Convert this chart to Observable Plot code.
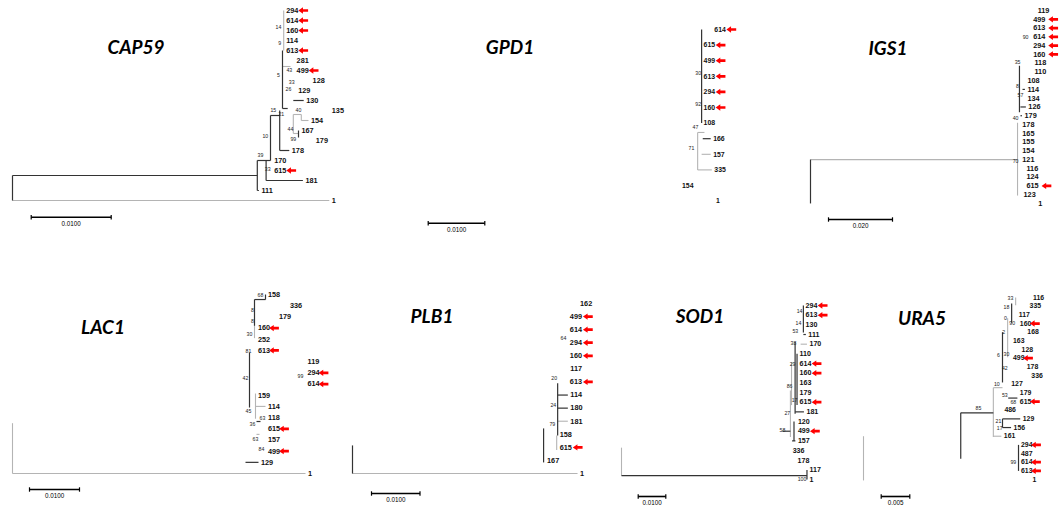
<!DOCTYPE html>
<html><head><meta charset="utf-8">
<script src="https://cdn.jsdelivr.net/npm/d3@7"></script>
<script src="https://cdn.jsdelivr.net/npm/@observablehq/plot@0.6"></script>
<style>
html,body{margin:0;padding:0;background:#fff;}
#chart{position:relative;width:1060px;height:506px;overflow:hidden;background:#fff;}
#chart svg{position:absolute;left:0;top:0;}
.title{position:absolute;transform:translate(-50%,-50%);font-family:"Lato","Liberation Sans",sans-serif;font-weight:bold;font-style:italic;font-size:19px;color:#000;white-space:nowrap;}
</style></head><body><div id="chart"></div>
<script>
// ---- data: x = distance in units of 0.001 subst./site, row = leaf order ----
const capLabels = ["294","614","160","114","613","281","499","128","129","130","135","154","167","179","178","170","615","181","111","1"];
const capTips = [33.9,33.9,33.9,33.9,33.9,35.2,35.2,37.2,35.4,36.4,39.6,37.0,35.8,37.6,34.6,32.4,32.4,36.3,30.8,39.6];
const capMarked = ["294","614","160","613","499","615"];
const capBranches = [[0,16.5,30.6,16.5],[0,16.5,0,19],[30.6,15,30.6,18],[30.6,18,30.8,18],[30.6,15,32.25,15],[32.25,10.5,32.25,15],[31.7,15,31.7,17],[31.7,17,36.3,17],[32.25,10.5,33.4,10.5],[33.4,10,33.4,14],[33.4,14,34.6,14],[33.75,4,33.75,9.8],[33.75,9.8,34.4,9.8],[35.1,9,36.4,9],[35.75,12,35.75,12.7]];
const capFaint = [[33.9,0,33.9,4],[0,19,39.6,19],[35.1,10.4,36.1,10.4],[36.1,10.4,36.1,11],[36.1,11,37.0,11],[35.1,10.4,35.1,12.3],[35.1,12.3,35.75,12.3],[33.75,5.6,34.75,5.6]];
const capBootText = ["14","9","43","5","33","26","40","15","21","44","99","10","39","33"];
const capBootX = [33.25,33.4,34.6,33.25,34.9,34.5,35.75,32.6,33.6,34.75,35.1,31.6,31.0,31.9];
const capBootRow = [1.7,3.3,6,6.5,7.2,7.9,10.0,10,10.4,11.9,12.9,12.6,14.5,15.9];

const gpdLabels = ["614","615","499","613","294","160","108","166","157","335","154","1"];
const gpdTips = [49.7,47.8,47.8,47.8,47.8,47.8,47.8,49.5,49.5,49.7,44.0,50.0];
const gpdMarked = ["614","615","499","613","294","160"];
const gpdBranches = [[47.9,0,47.9,6],[48.1,7,49.5,7]];
const gpdFaint = [[47.9,8,49.5,8],[47.2,9,49.7,9],[47.2,6.6,47.2,9],[47.2,6.6,48.4,6.6]];
const gpdBootText = ["30","92","47","71"];
const gpdBootX = [47.3,47.3,46.8,46.1];
const gpdBootRow = [2.8,4.8,6.3,7.6];

const igsLabels = ["119","499","613","614","294","160","118","110","108","114","134","126","179","178","165","155","154","121","116","124","615","123","1"];
const igsTips = [70.2,68.8,68.8,68.8,68.8,68.8,69.2,69.2,67.0,67.0,67.0,67.3,66.1,65.4,65.4,65.4,65.4,65.4,66.7,66.7,66.7,65.8,70.4];
const igsMarked = ["499","613","614","294","160","615"];
const igsBranches = [[0,17,0,22],[65.3,6.3,65.3,11.6],[66.25,9,67.0,9],[65.6,11,67.3,11],[65.6,12,66.1,12]];
const igsFaint = [[0,17,64.7,17],[64.7,12.8,64.7,21.1]];
const igsBootText = ["90","35","8","57","40","70"];
const igsBootX = [67.2,64.7,64.7,65.6,64.1,64.1];
const igsBootRow = [3.1,5.9,8.6,9.7,12.3,17.2];

const lacLabels = ["158","336","179","160","252","613","119","294","614","159","114","118","615","157","499","129","1"];
const lacTips = [50.6,55.0,52.8,48.6,48.6,48.6,58.5,58.5,58.5,48.6,50.6,50.6,50.6,50.6,50.6,49.2,58.6];
const lacMarked = ["160","613","294","614","615","499"];
const lacBranches = [[48.4,0.45,48.4,2.8],[48.4,0.45,50.6,0.45],[50.6,0,50.6,0.45],[47.4,5.2,47.4,10.1],[48.8,11.35,49.6,11.35],[46.6,15,49.2,15]];
const lacFaint = [[48.4,2.8,48.4,3.9],[48.6,8.85,48.6,11.1],[48.6,10,50.6,10],[48.8,12.5,49.4,12.5],[0,16,58.6,16],[0,11.5,0,16]];
const lacBootText = ["68","8","8","30","81","42","99","45","63","36","63","84"];
const lacBootX = [49.6,48,48,47.4,47.2,46.6,57.6,47.2,50,48,48.6,49.8];
const lacBootRow = [0.1,1.43,2.4,3.6,5.1,7.5,7.3,10.45,11.1,11.6,12.9,13.85];

const plbLabels = ["162","499","614","294","160","117","613","114","180","181","158","615","167","1"];
const plbTips = [46.4,44.3,44.3,44.3,44.3,44.4,44.3,44.4,44.4,44.4,42.2,42.2,39.6,46.4];
const plbMarked = ["499","614","294","160","613","615"];
const plbBranches = [[42.3,6.1,42.3,10.1],[42.3,7,44.4,7],[42.3,8,44.4,8],[39.4,9.55,39.4,12.15],[0,10.85,0,13]];
const plbFaint = [[42.3,9,44.4,9],[42.1,10.1,42.1,11.2],[0,13,46.4,13]];
const plbBootText = ["64","20","24","79"];
const plbBootX = [43.5,41.6,41.4,41.2];
const plbBootRow = [2.7,5.7,7.8,9.25];

const sodLabels = ["294","613","130","111","170","110","614","160","163","179","615","181","120","499","157","336","178","117","1"];
const sodTips = [65.8,65.8,65.8,66.8,67.2,63.6,63.6,63.6,63.6,63.6,63.6,66.1,63.0,63.0,63.0,61.1,62.9,67.2,67.2];
const sodMarked = ["294","613","614","160","615","499"];
const sodBranches = [[65.9,0,65.9,2.8],[65.9,3,66.8,3],[62.9,3.8,62.9,11.2],[63.6,5,63.6,10.3],[62.9,11,66.1,11],[62.5,12,62.5,14],[61.8,14,63.0,14],[58.3,13,61.2,13],[0,17.6,67.2,17.6],[67.2,17,67.2,18]];
const sodFaint = [[61.6,5.9,61.6,10.3],[64.9,4,67.2,4],[61.2,8.8,61.2,13.6],[0,14.7,0,17.6]];
const sodBootText = ["14","14","53","38","29","86","17","27","58","100"];
const sodBootX = [64.5,64.1,63.0,62.3,62.0,60.9,62.7,60.1,58.3,65.4];
const sodBootRow = [0.6,1.8,2.7,3.9,6.1,8.4,9.8,11.1,12.9,18];

const uraLabels = ["116","335","117","160","168","163","128","499","178","336","127","179","615","486","129","156","161","294","487","614","613","1"];
const uraTips = [29.2,28.6,26.7,26.9,28.2,25.7,27.2,25.7,28.1,28.9,25.4,26.9,26.9,24.2,27.4,25.8,24.1,27.1,27.1,27.1,27.1,29.1];
const uraMarked = ["160","499","615","294","614","613"];
const uraBranches = [[25.9,0.7,25.9,2.9],[24.3,4,24.3,9.8],[17.0,13.3,22.7,13.3],[17.0,13.3,17.0,18.6],[25.3,11.6,26.9,11.6],[24.3,14,27.4,14],[24.3,14,24.3,15],[24.3,15,25.8,15],[27.1,17,27.1,20]];
const uraFaint = [[26.6,0,26.6,0.9],[25.2,2.4,25.2,6.9],[22.7,10.4,24.3,10.4],[22.7,10.4,22.7,16.1],[22.7,16,24.1,16],[0,16,0,21.1]];
const uraBootText = ["33","18","0","90","2","30","6","42","10","53","68","85","21","17","99"];
const uraBootX = [25.7,25.0,24.8,26.0,24.5,25.0,23.6,24.7,23.3,24.7,26.2,20.1,23.6,23.8,26.2];
const uraBootRow = [0.1,1.15,2.4,3.0,4.0,6.6,6.7,8.2,10.0,11.3,12.1,12.8,14.3,15.1,19.0];

const geneTitles = ["CAP59","GPD1","IGS1","LAC1","PLB1","SOD1","URA5"];
const scaleLabels = ["0.0100","0.0100","0.020","0.0100","0.0100","0.0100","0.005"];
const scaleLengths = [0.01,0.01,0.02,0.01,0.01,0.01,0.005];

// ---- layout (pixels) ----
const layouts = [
  {root:12,  ppu:8,    row0:10,  sp:10,    font:7.3, tx:136, ty:46,  barX:30.7,  barY:216.7, arrowDx:19.5},
  {root:430, ppu:5.66, row0:29,  sp:15.6,  font:6.9, tx:510, ty:46,  barX:427.7, barY:222.7, arrowDx:19.5},
  {root:810, ppu:3.2,  row0:10,  sp:8.77,  font:7.3, tx:888, ty:47,  barX:828,   barY:219,   arrowDx:22.5},
  {root:12,  ppu:5,    row0:294, sp:11.19, font:7.3, tx:103, ty:326, barX:29,    barY:489,   arrowDx:18.5},
  {root:352, ppu:4.85, row0:303, sp:13.08, font:7.3, tx:432, ty:315, barX:371,   barY:493,   arrowDx:20.5},
  {root:621, ppu:2.76, row0:305, sp:9.67,  font:7.1, tx:700, ty:315, barX:637.7, barY:496,   arrowDx:19.5},
  {root:863, ppu:5.72, row0:297, sp:8.67,  font:6.9, tx:922, ty:317, barX:880.7, barY:496,   arrowDx:17.5}
];
const panelData = [
  [capLabels,capTips,capMarked,capBranches,capFaint,capBootText,capBootX,capBootRow],
  [gpdLabels,gpdTips,gpdMarked,gpdBranches,gpdFaint,gpdBootText,gpdBootX,gpdBootRow],
  [igsLabels,igsTips,igsMarked,igsBranches,igsFaint,igsBootText,igsBootX,igsBootRow],
  [lacLabels,lacTips,lacMarked,lacBranches,lacFaint,lacBootText,lacBootX,lacBootRow],
  [plbLabels,plbTips,plbMarked,plbBranches,plbFaint,plbBootText,plbBootX,plbBootRow],
  [sodLabels,sodTips,sodMarked,sodBranches,sodFaint,sodBootText,sodBootX,sodBootRow],
  [uraLabels,uraTips,uraMarked,uraBranches,uraFaint,uraBootText,uraBootX,uraBootRow]
];

const arrowSym = {draw(ctx, size){
  const r = Math.sqrt(size/Math.PI);
  ctx.moveTo(-r,0); ctx.lineTo(-r*0.05,-r*0.64); ctx.lineTo(-r*0.05,-r*0.28);
  ctx.lineTo(r,-r*0.28); ctx.lineTo(r,r*0.28); ctx.lineTo(-r*0.05,r*0.28);
  ctx.lineTo(-r*0.05,r*0.64); ctx.closePath();
}};

const W = 1060, H = 506;
const chart = document.getElementById("chart");
const seg = a => a.map(([x1,y1,x2,y2]) => ({x1,y1,x2,y2}));

panelData.forEach((pd, k) => {
  const [labels,tips,marked,branches,faint,bootText,bootX,bootRow] = pd;
  const L = layouts[k];
  const leaves = labels.map((label,i)=>({label, tip:tips[i], row:i, marked:marked.includes(label)}));
  const boots = bootText.map((t,i)=>({t, x:bootX[i], y:bootRow[i]}));
  const bx1 = (L.barX - L.root)/L.ppu;
  const bx2 = bx1 + scaleLengths[k]*1000;
  const brow = (L.barY - L.row0)/L.sp;
  const th = 2.2/L.sp;
  const bar = [{x1:bx1, x2:bx2, y:brow, label:scaleLabels[k]}];
  const barTicks = [{x:bx1},{x:bx2}];
  const svg = Plot.plot({
    width:W, height:H, margin:0,
    x:{domain:[(0-L.root)/L.ppu,(W-L.root)/L.ppu], range:[0,W], axis:null},
    y:{domain:[(0-L.row0)/L.sp,(H-L.row0)/L.sp], range:[0,H], axis:null},
    style:{background:"transparent", fontFamily:"'Liberation Sans', Arial, sans-serif", overflow:"visible"},
    marks:[
      Plot.link(seg(faint),{x1:"x1",y1:"y1",x2:"x2",y2:"y2",stroke:"#b4b4b4",strokeWidth:1.1}),
      Plot.link(seg(branches),{x1:"x1",y1:"y1",x2:"x2",y2:"y2",stroke:"#333",strokeWidth:1.2}),
      Plot.text(boots,{x:"x",y:"y",text:"t",fontSize:5.2,fill:"#222"}),
      Plot.text(leaves,{x:"tip",y:"row",text:"label",textAnchor:"start",dx:2.5,fontSize:L.font,fontWeight:"bold",fill:"#111"}),
      Plot.dot(leaves.filter(d=>d.marked),{x:"tip",y:"row",dx:L.arrowDx,symbol:arrowSym,r:4.9,fill:"#f00",stroke:null}),
      Plot.link(bar,{x1:"x1",x2:"x2",y1:"y",y2:"y",stroke:"#000",strokeWidth:1.6}),
      Plot.link(barTicks,{x1:"x",x2:"x",y1:()=>brow-th,y2:()=>brow+th,stroke:"#000",strokeWidth:1.2}),
      Plot.text(bar,{x:d=>(d.x1+d.x2)/2,y:"y",text:"label",dy:6.5,fontSize:6.3,fill:"#000"})
    ]
  });
  chart.appendChild(svg);
  const t = document.createElement("div");
  t.className = "title";
  t.textContent = geneTitles[k];
  t.style.left = L.tx + "px";
  t.style.top = L.ty + "px";
  chart.appendChild(t);
});
</script></body></html>
